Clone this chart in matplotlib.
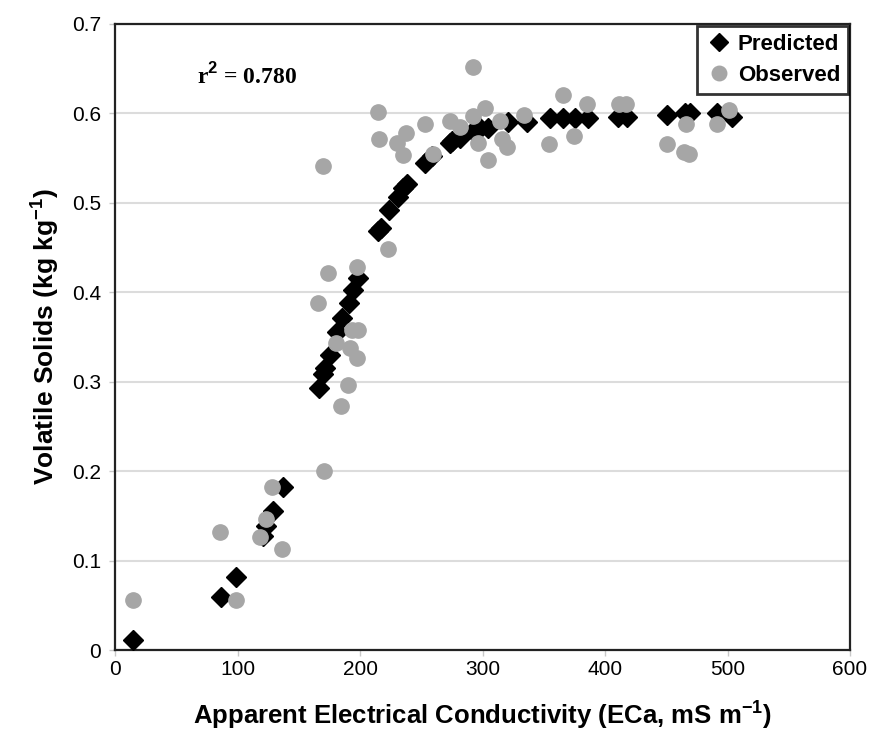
import matplotlib.pyplot as plt

plt.rcParams['font.family'] = ['Liberation Sans', 'DejaVu Sans']
plt.rcParams['mathtext.fontset'] = 'custom'
plt.rcParams['mathtext.rm'] = 'Liberation Sans'
plt.rcParams['mathtext.bf'] = 'Liberation Sans:bold'

# predicted curve values
pred_eca = [15, 86.5, 99, 121, 123, 129, 137, 166.5, 169.5, 171, 175.5, 181, 185, 191,
            194, 198, 215, 217, 224, 231, 235, 238, 253, 259, 273.5, 275, 282, 292,
            298, 304.5, 321, 336, 355, 366, 375.5, 386, 410.5, 418, 450.5, 465, 469,
            491, 503.5]
pred_vs = [0.011, 0.059, 0.082, 0.128, 0.139, 0.155, 0.182, 0.293, 0.309, 0.315, 0.330,
           0.356, 0.371, 0.388, 0.403, 0.416, 0.468, 0.472, 0.492, 0.507, 0.517, 0.521,
           0.545, 0.552, 0.567, 0.569, 0.573, 0.580, 0.584, 0.584, 0.590, 0.590, 0.595,
           0.595, 0.595, 0.595, 0.596, 0.596, 0.598, 0.600, 0.600, 0.600, 0.596]

# observed values
obs_eca = [15, 86, 99, 118, 123, 128, 136, 170.5, 184.5, 190, 180.5, 192, 197.5, 193.5,
           198, 166, 174, 197.5, 223, 170, 215, 215.5, 230, 237.5, 235, 253, 259.5,
           273.5, 281.5, 292, 292, 302, 296, 304.5, 314, 316, 320, 334, 354, 366, 375,
           385, 411, 417, 450.5, 464.5, 468.5, 466, 491, 501]
obs_vs = [0.056, 0.132, 0.056, 0.126, 0.147, 0.182, 0.113, 0.200, 0.273, 0.296, 0.343,
          0.338, 0.327, 0.358, 0.358, 0.388, 0.421, 0.428, 0.448, 0.541, 0.601, 0.571,
          0.567, 0.578, 0.554, 0.588, 0.555, 0.592, 0.585, 0.652, 0.597, 0.606, 0.567,
          0.548, 0.591, 0.571, 0.562, 0.598, 0.566, 0.621, 0.575, 0.610, 0.610, 0.610,
          0.566, 0.557, 0.555, 0.588, 0.588, 0.604]

x_ticks = [0, 100, 200, 300, 400, 500, 600]
y_ticks = [0, 0.1, 0.2, 0.3, 0.4, 0.5, 0.6, 0.7]
y_tick_labels = ['0', '0.1', '0.2', '0.3', '0.4', '0.5', '0.6', '0.7']

fig = plt.figure(figsize=(8.74, 7.48), dpi=100)
ax = fig.add_axes([0.1316, 0.131, 0.841, 0.837])

ax.plot(pred_eca, pred_vs, linestyle='none', marker='D', markersize=10,
        color='black', label='Predicted', zorder=3)
ax.plot(obs_eca, obs_vs, linestyle='none', marker='o', markersize=11,
        color='#a6a6a6', label='Observed', zorder=4)

ax.set_xlim(0, 600)
ax.set_ylim(0, 0.7)
ax.set_xticks(x_ticks)
ax.set_yticks(y_ticks)
ax.set_yticklabels(y_tick_labels)
ax.yaxis.grid(True, color='#dcdcdc', linewidth=1.5)
ax.set_axisbelow(True)
ax.tick_params(axis='both', labelsize=15, color='#c8c8c8', length=4, width=1,
               direction='out')
ax.tick_params(axis='y', pad=6)
ax.tick_params(axis='x', pad=3)
for s in ax.spines.values():
    s.set_linewidth(1.6)
    s.set_color('#222222')

ax.set_xlabel('Apparent Electrical Conductivity (ECa, mS m$^{\\mathbf{-1}}$)',
              fontsize=18.5, fontweight='bold', labelpad=14)
ax.set_ylabel('Volatile Solids (kg kg$^{\\mathbf{-1}}$)', fontsize=19,
              fontweight='bold', labelpad=8)

ax.text(67, 0.642, 'r$^{\\mathbf{2}}$ = 0.780', family=['Liberation Serif', 'DejaVu Serif'],
        fontsize=17, fontweight='bold', va='center')

leg = ax.legend(loc='upper right', prop={'weight': 'bold', 'size': 16},
                frameon=True, fancybox=False, borderaxespad=0.1, handletextpad=0.2,
                handlelength=1.3, borderpad=0.35, labelspacing=0.45, markerscale=0.95)
leg.get_frame().set_edgecolor('black')
leg.get_frame().set_linewidth(2)

fig.savefig('out.png', dpi=100)
